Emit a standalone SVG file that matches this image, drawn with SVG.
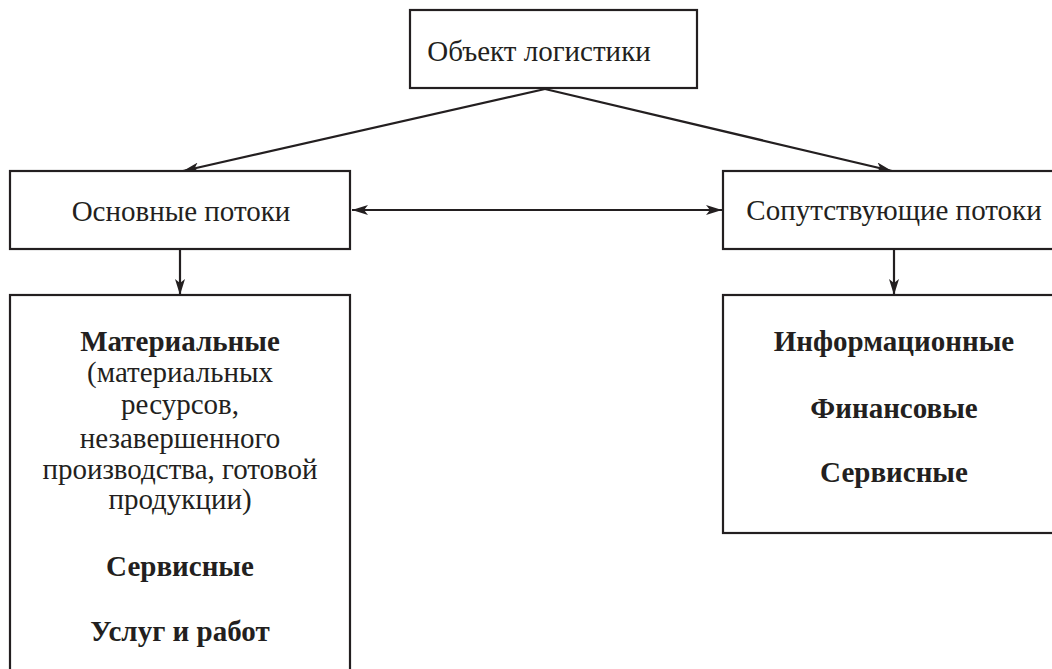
<svg xmlns="http://www.w3.org/2000/svg" width="1052" height="669" viewBox="0 0 1052 669">
<defs>
<marker id="ah" viewBox="0 0 16 10" refX="16" refY="5" markerWidth="16" markerHeight="10" markerUnits="userSpaceOnUse" orient="auto-start-reverse">
<path d="M0,0 L16,5 L0,10 L4,5 Z" fill="#231f20"/>
</marker>
<style>
.box{fill:#fff;stroke:#231f20;stroke-width:2.2}
.t{font-family:"Liberation Serif","Times New Roman",serif;font-size:29px;fill:#231f20;text-anchor:middle}
.b{font-weight:bold}
.c{stroke:#231f20;stroke-width:2.2;fill:none}
</style>
</defs>
<rect width="1052" height="669" fill="#fff"/>
<g id="connectors">
<line class="c" x1="545" y1="89" x2="183" y2="171" marker-end="url(#ah)"/>
<line class="c" x1="545" y1="89" x2="892" y2="171" marker-end="url(#ah)"/>
<line class="c" x1="352" y1="210" x2="722" y2="210" marker-start="url(#ah)" marker-end="url(#ah)"/>
<line class="c" x1="180" y1="249" x2="180" y2="295" marker-end="url(#ah)"/>
<line class="c" x1="894" y1="249" x2="894" y2="295" marker-end="url(#ah)"/>
</g>
<g id="object">
<rect class="box" x="410" y="10" width="287" height="78"/>
<text class="t" x="539" y="61">Объект логистики</text>
</g>
<g id="main-flows">
<rect class="box" x="10" y="171" width="340" height="78"/>
<text class="t" x="181" y="221">Основные потоки</text>
</g>
<g id="accompanying-flows">
<rect class="box" x="723" y="171" width="340" height="78"/>
<text class="t" x="894" y="220">Сопутствующие потоки</text>
</g>
<g id="main-list">
<rect class="box" x="10" y="295" width="340" height="390"/>
<text class="t b" x="180" y="351">Материальные</text>
<text class="t" x="180" y="382">(материальных</text>
<text class="t" x="180" y="414">ресурсов,</text>
<text class="t" x="180" y="448">незавершенного</text>
<text class="t" x="180" y="479">производства, готовой</text>
<text class="t" x="180" y="509">продукции)</text>
<text class="t b" x="180" y="576">Сервисные</text>
<text class="t b" x="180" y="641">Услуг и работ</text>
</g>
<g id="accompanying-list">
<rect class="box" x="723" y="295" width="340" height="238"/>
<text class="t b" x="894" y="351">Информационные</text>
<text class="t b" x="894" y="418">Финансовые</text>
<text class="t b" x="894" y="482">Сервисные</text>
</g>
</svg>
